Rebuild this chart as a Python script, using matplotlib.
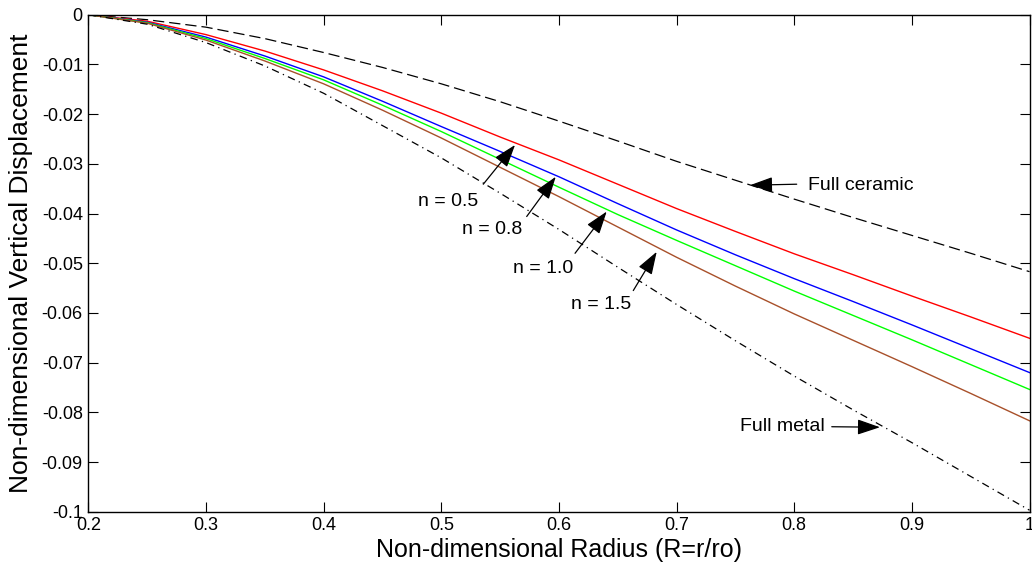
"""
plot.py

Vertical displacement vs radius for FGM plates with different power-law index n.
"""

import matplotlib

matplotlib.use("Agg")
import matplotlib.pyplot as plt
import numpy as np

plt.rcParams["font.family"] = ["Liberation Sans", "DejaVu Sans"]
plt.rcParams["axes.unicode_minus"] = False

# Non-dimensional radius samples
radius = [0.20, 0.25, 0.30, 0.35, 0.40, 0.45, 0.50, 0.55, 0.60,
          0.65, 0.70, 0.75, 0.80, 0.85, 0.90, 0.95, 1.00]

full_ceramic = [0, -0.0010, -0.0025, -0.0048, -0.0076, -0.0106, -0.0139, -0.0175, -0.0214,
                -0.0254, -0.0295, -0.0333, -0.0371, -0.0408, -0.0444, -0.0480, -0.0517]
n_05 = [0, -0.0013, -0.0040, -0.0073, -0.0111, -0.0153, -0.0198, -0.0246, -0.0292,
        -0.0341, -0.0390, -0.0436, -0.0481, -0.0523, -0.0566, -0.0608, -0.0651]
n_08 = [0, -0.0015, -0.0045, -0.0083, -0.0125, -0.0174, -0.0225, -0.0275, -0.0326,
        -0.0380, -0.0433, -0.0483, -0.0531, -0.0577, -0.0624, -0.0672, -0.0720]
n_10 = [0, -0.0016, -0.0048, -0.0088, -0.0131, -0.0182, -0.0235, -0.0291, -0.0347,
        -0.0402, -0.0454, -0.0505, -0.0556, -0.0605, -0.0654, -0.0704, -0.0754]
n_15 = [0, -0.0017, -0.0051, -0.0093, -0.0139, -0.0192, -0.0248, -0.0307, -0.0366,
        -0.0427, -0.0488, -0.0546, -0.0602, -0.0655, -0.0708, -0.0762, -0.0817]
full_metal = [0, -0.0019, -0.0056, -0.0103, -0.0158, -0.0223, -0.0288, -0.0359, -0.0432,
              -0.0508, -0.0583, -0.0656, -0.0727, -0.0795, -0.0861, -0.0929, -0.0997]

x_ticks = [0.2, 0.3, 0.4, 0.5, 0.6, 0.7, 0.8, 0.9, 1.0]
x_tick_labels = ["0.2", "0.3", "0.4", "0.5", "0.6", "0.7", "0.8", "0.9", "1"]
y_ticks = [0, -0.01, -0.02, -0.03, -0.04, -0.05, -0.06, -0.07, -0.08, -0.09, -0.1]
y_tick_labels = ["0", "-0.01", "-0.02", "-0.03", "-0.04", "-0.05",
                 "-0.06", "-0.07", "-0.08", "-0.09", "-0.1"]


def arrow(ax, tip, tail):
    ax.annotate(
        "", xy=tip, xytext=tail,
        arrowprops=dict(arrowstyle="-|>,head_length=1.0,head_width=0.34",
                        color="k", lw=0.9, mutation_scale=14,
                        shrinkA=0, shrinkB=0),
    )


def main():
    fig = plt.figure(figsize=(10.32, 5.67), dpi=100)
    ax = fig.add_axes([0.0856, 0.0975, 0.9120, 0.8765])

    ax.plot(radius, full_ceramic, color="k", lw=0.9, ls=(0, (9, 4)))
    ax.plot(radius, n_05, color="#ff0000", lw=1.0)
    ax.plot(radius, n_08, color="#0000ff", lw=1.0)
    ax.plot(radius, n_10, color="#00ff00", lw=1.0)
    ax.plot(radius, n_15, color="#a8502a", lw=1.0)
    ax.plot(radius, full_metal, color="k", lw=0.9, ls=(0, (6, 3.5, 1, 3.5)))

    ax.set_xlim(0.2, 1.0)
    ax.set_ylim(-0.1, 0)
    ax.set_xticks(x_ticks)
    ax.set_xticklabels(x_tick_labels)
    ax.set_yticks(y_ticks)
    ax.set_yticklabels(y_tick_labels)
    ax.tick_params(direction="in", length=7, width=0.8, labelsize=13,
                   top=True, right=True, pad=4)
    for sp in ax.spines.values():
        sp.set_linewidth(1.0)

    ax.set_xlabel("Non-dimensional Radius (R=r/ro)", fontsize=18, labelpad=3)
    ax.set_ylabel("Non-dimensional Vertical Displacement", fontsize=19, labelpad=6)

    # annotations
    fs = 14
    arrow(ax, (0.5627, -0.0262), (0.5357, -0.0341))
    ax.text(0.5062, -0.0375, "n = 0.5", fontsize=fs, ha="center", va="center")
    arrow(ax, (0.5973, -0.0326), (0.5726, -0.0406))
    ax.text(0.5436, -0.0433, "n = 0.8", fontsize=fs, ha="center", va="center")
    arrow(ax, (0.6406, -0.0396), (0.6137, -0.0480))
    ax.text(0.5862, -0.0510, "n = 1.0", fontsize=fs, ha="center", va="center")
    arrow(ax, (0.6831, -0.0477), (0.6632, -0.0555))
    ax.text(0.6355, -0.0584, "n = 1.5", fontsize=fs, ha="center", va="center")
    arrow(ax, (0.7624, -0.0343), (0.8021, -0.0341))
    ax.text(0.8120, -0.0343, "Full ceramic", fontsize=fs, ha="left", va="center")
    arrow(ax, (0.8729, -0.0830), (0.8319, -0.0829))
    ax.text(0.8262, -0.0829, "Full metal", fontsize=fs, ha="right", va="center")

    fig.savefig("out.png", dpi=100)
    plt.close(fig)


if __name__ == "__main__":
    main()
